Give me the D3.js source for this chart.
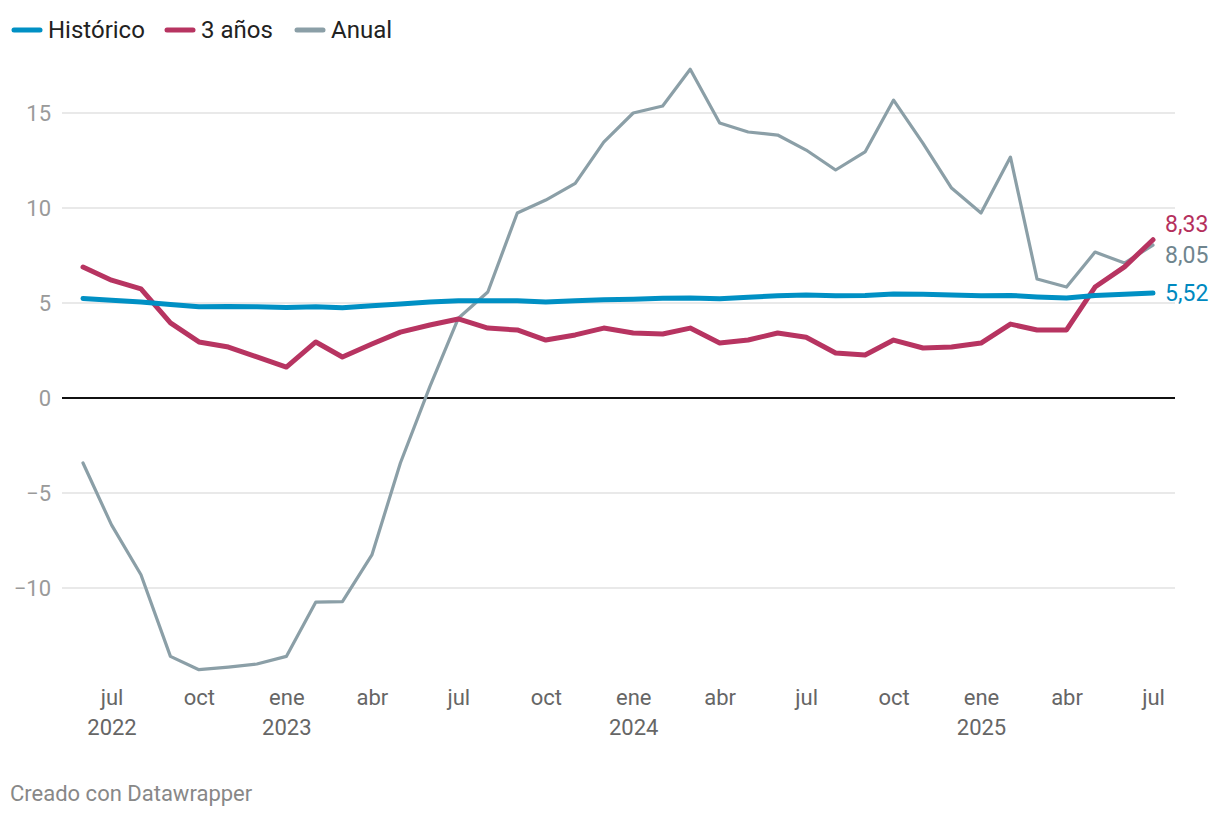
<!DOCTYPE html>
<html>
<head>
<meta charset="utf-8">
<script src="https://cdn.jsdelivr.net/npm/d3@7"></script>
<style>
	body { margin: 0; background: #fff; font-family: Roboto, "Noto Sans", sans-serif; }
	#chart { width: 1220px; height: 816px; }
</style>
</head>
<body>
<div id="chart"></div>
<script>

// monthly values, jun 2022 .. jul 2025
var months = ["2022-06","2022-07","2022-08","2022-09","2022-10","2022-11","2022-12",
	"2023-01","2023-02","2023-03","2023-04","2023-05","2023-06","2023-07","2023-08","2023-09","2023-10","2023-11","2023-12",
	"2024-01","2024-02","2024-03","2024-04","2024-05","2024-06","2024-07","2024-08","2024-09","2024-10","2024-11","2024-12",
	"2025-01","2025-02","2025-03","2025-04","2025-05","2025-06","2025-07"];

var historico = [5.24,5.15,5.05,4.92,4.8,4.82,4.8,4.76,4.8,4.75,4.85,4.95,5.05,5.12,5.12,5.12,5.05,5.12,5.17,
	5.2,5.25,5.26,5.22,5.3,5.38,5.42,5.38,5.4,5.48,5.46,5.42,5.38,5.4,5.32,5.26,5.4,5.46,5.52];

var tresAnos = [6.89,6.2,5.74,3.95,2.95,2.68,2.16,1.63,2.95,2.16,2.84,3.47,3.84,4.16,3.68,3.58,3.05,3.32,3.68,
	3.42,3.37,3.68,2.89,3.05,3.42,3.2,2.37,2.26,3.05,2.63,2.68,2.89,3.89,3.58,3.58,5.84,6.9,8.33];

var anual = [-3.42,-6.68,-9.3,-13.6,-14.3,-14.16,-14.0,-13.6,-10.74,-10.72,-8.26,-3.42,0.6,4.2,5.58,9.74,10.42,11.3,13.47,
	15.0,15.37,17.3,14.47,14.0,13.84,13.05,12.0,12.95,15.68,13.4,11.05,9.74,12.68,6.26,5.84,7.68,7.1,8.05];

var yTicks = [-10, -5, 0, 5, 10, 15];

var series = [
	{ name: "Histórico", vals: historico, color: "#0090c4", label: "#0089bf", width: 5 },
	{ name: "3 años", vals: tresAnos, color: "#b73461", label: "#b5305d", width: 5 },
	{ name: "Anual", vals: anual, color: "#8b9fa7", label: "#6f858e", width: 3.2 }
];

var parse = d3.timeParse("%Y-%m");
var dates = months.map(parse);

var svg = d3.select("#chart").append("svg")
	.attr("width", 1220)
	.attr("height", 816);

var x = d3.scaleTime([dates[0], dates[dates.length - 1]], [83, 1153]);
var y = d3.scaleLinear([-15, 15], [683, 113]);

// grid
var grid = svg.append("g");
yTicks.filter(d => d !== 0).forEach(t => {
	grid.append("line")
		.attr("x1", 62).attr("x2", 1175)
		.attr("y1", y(t)).attr("y2", y(t))
		.attr("stroke", "#e2e2e2").attr("stroke-width", 1.3);
});

var yaxis = d3.axisLeft(y).tickValues(yTicks).tickSize(0).tickPadding(0)
	.tickFormat(d => d < 0 ? "\u2212" + Math.abs(d) : d);

svg.append("g")
	.attr("transform", "translate(51,0)")
	.call(yaxis)
	.call(g => g.select(".domain").remove())
	.selectAll("text")
		.attr("font-family", "Roboto")
		.attr("font-size", 22)
		.attr("fill", "#9a9a9a");

// x axis
var xticks = d3.timeMonth.every(3).range(dates[1], d3.timeMonth.offset(dates[dates.length - 1], 1));
var mnames = ["ene","feb","mar","abr","may","jun","jul","ago","sep","oct","nov","dic"];

var xaxis = d3.axisBottom(x).tickValues(xticks).tickSize(0).tickPadding(0)
	.tickFormat(d => mnames[d.getMonth()]);

var xg = svg.append("g")
	.attr("transform", "translate(0,705)")
	.call(xaxis);
xg.select(".domain").remove();
xg.selectAll("text")
	.attr("font-family", "Roboto")
	.attr("font-size", 22)
	.attr("fill", "#666")
	.attr("dy", 0);

xg.selectAll(".tick")
	.filter((d, i) => i === 0 || d.getMonth() === 0)
	.append("text")
		.attr("y", 30)
		.attr("fill", "#666")
		.attr("font-family", "Roboto")
		.attr("font-size", 22)
		.attr("text-anchor", "middle")
		.text(d => d.getFullYear());

// zero line
svg.append("line")
	.attr("x1", 62).attr("x2", 1175)
	.attr("y1", y(0)).attr("y2", y(0))
	.attr("stroke", "#111").attr("stroke-width", 1.8);

// lines, drawn back to front
var line = d3.line((d, i) => x(dates[i]), d => y(d));

series.slice().reverse().forEach(s => {
	svg.append("path")
		.attr("fill", "none")
		.attr("stroke", s.color)
		.attr("stroke-width", s.width)
		.attr("stroke-linejoin", "round")
		.attr("stroke-linecap", "round")
		.attr("d", line(s.vals));
});

// end labels
var labelY = { "Histórico": 293, "3 años": 224, "Anual": 255 };
series.forEach(s => {
	svg.append("text")
		.attr("x", 1165)
		.attr("y", labelY[s.name])
		.attr("dy", "0.35em")
		.attr("font-family", "Roboto")
		.attr("font-size", 23)
		.attr("fill", s.label)
		.text(d3.format(".2f")(s.vals[s.vals.length - 1]).replace(".", ","));
});

// legend
var lx = [12, 165, 295];
series.forEach((s, i) => {
	svg.append("line")
		.attr("x1", lx[i] + 2).attr("x2", lx[i] + 28)
		.attr("y1", 30).attr("y2", 30)
		.attr("stroke", s.color)
		.attr("stroke-width", 5)
		.attr("stroke-linecap", "round");
	svg.append("text")
		.attr("x", lx[i] + 36)
		.attr("y", 30)
		.attr("dy", "0.35em")
		.attr("font-family", "Roboto")
		.attr("font-size", 24)
		.attr("fill", "#222")
		.text(s.name);
});

svg.append("text")
	.attr("x", 10)
	.attr("y", 793)
	.attr("dy", "0.35em")
	.attr("font-family", "Roboto")
	.attr("font-size", 22)
	.attr("fill", "#888")
	.text("Creado con Datawrapper");

</script>
</body>
</html>
